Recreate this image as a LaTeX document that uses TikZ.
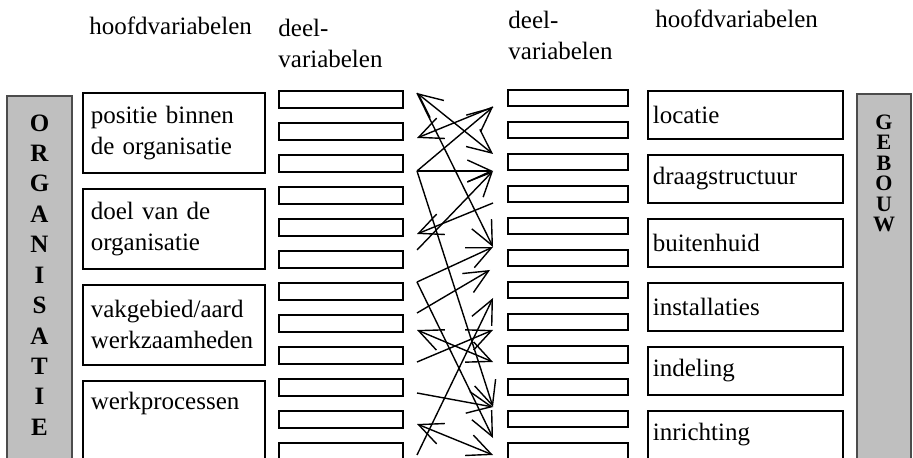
\documentclass[tikz,border=0pt]{standalone}
\usepackage{fontspec}
\setmainfont{Liberation Serif}
\usetikzlibrary{arrows.meta,positioning}

\begin{document}
\begin{tikzpicture}[x=0.5pt,y=-0.5pt,>={Straight Barb[length=12pt,width=11pt]},
  font=\fontsize{12.5}{15.5}\selectfont,
  every node/.style={inner sep=0pt},
  deelbox/.style={draw,line width=1pt,minimum width=62pt,minimum height=8.5pt},
  hoofdbox/.style={draw,line width=0.8pt,align=left,inner xsep=4pt},
  balk/.style={draw=black!70,line width=0.8pt,fill=black!25},
  letter/.style={font=\fontsize{12.5}{13}\selectfont\bfseries},
  rel/.style={line width=0.7pt}]
\useasboundingbox (0,0) rectangle (913,458);

% koppen
\node[anchor=base west] (hv1) at (89,35) {hoofdvariabelen};
\node[anchor=north west,align=left] (dv1) at (278,19) {deel-\\variabelen};
\node[anchor=north west,align=left] (dv2) at (508,11) {deel-\\variabelen};
\node[anchor=base west] (hv2) at (655,28) {hoofdvariabelen};

% balken
\node[balk,minimum width=32.5pt,minimum height=187pt,anchor=north] (org) at (39.5,95) {};
\foreach \c [count=\n] in {O,R,G,A,N,I,S,A,T,I,E}
  \node[letter] (o\n) at (39.5,{123+30.4*(\n-1)}) {\c};
\node[balk,minimum width=27pt,minimum height=188pt,anchor=north] (geb) at (884,93) {};
\foreach \c [count=\n] in {G,E,B,O,U,W}
  \node[letter,font=\fontsize{11}{12}\selectfont\bfseries] (g\n) at (884,{122+20.5*(\n-1)}) {\c};

% hoofdvariabelen organisatie
\node[hoofdbox,text width=83pt,minimum height=40pt,anchor=north west] (h1) at (82,92) {positie binnen\\de organisatie};
\node[hoofdbox,text width=83pt,minimum height=40pt,anchor=north west] (h2) at (82,188) {doel van de\\organisatie};
\node[hoofdbox,text width=83pt,minimum height=40pt,anchor=north west] (h3) at (82,284) {vakgebied/aard\\werkzaamheden};
\node[hoofdbox,text width=83pt,minimum height=40pt,anchor=north west] (h4) at (82,380) {werkprocessen\\\strut};

% hoofdvariabelen gebouw
\node[hoofdbox,text width=92.5pt,minimum height=24pt,inner xsep=2.5pt,anchor=north west] (k1) at (647,90) {locatie};
\node[hoofdbox,text width=92.5pt,minimum height=24pt,inner xsep=2.5pt,anchor=north west] (k2) at (647,154) {draagstructuur};
\node[hoofdbox,text width=92.5pt,minimum height=24pt,inner xsep=2.5pt,anchor=north west] (k3) at (647,218) {buitenhuid};
\node[hoofdbox,text width=92.5pt,minimum height=24pt,inner xsep=2.5pt,anchor=north west] (k4) at (647,282) {installaties};
\node[hoofdbox,text width=92.5pt,minimum height=24pt,inner xsep=2.5pt,anchor=north west] (k5) at (647,346) {indeling};
\node[hoofdbox,text width=92.5pt,minimum height=24pt,inner xsep=2.5pt,anchor=north west] (k6) at (647,410) {inrichting};

% deelvariabelen
\foreach \i in {1,...,12} {
  \node[deelbox] (l\i) at (341,{99.5+32*(\i-1)}) {};
  \node[deelbox,minimum width=60pt,minimum height=8pt] (r\i) at (568,{98.5+32*(\i-1)}) {};
}

% eindpunten van de relaties
\coordinate (la) at (417,93);  \coordinate (lb) at (417,138);
\coordinate (lc) at (417,171); \coordinate (ld) at (417,234);
\coordinate (le) at (417,250); \coordinate (lf) at (417,282);
\coordinate (lg) at (417,313); \coordinate (lh) at (417,330);
\coordinate (li) at (417,362); \coordinate (lj) at (417,393);
\coordinate (lk) at (417,424); \coordinate (lm) at (417,455);
\coordinate (rp) at (493,107); \coordinate (rq) at (493,154);
\coordinate (rr) at (493,171); \coordinate (rs) at (493,203);
\coordinate (rt) at (493,247); \coordinate (ru) at (490,270);
\coordinate (rv) at (493,298); \coordinate (rw) at (493,330);
\coordinate (rx) at (493,362); \coordinate (ry) at (493,407);
\coordinate (rz) at (493,438); \coordinate (rzz) at (493,455);

% relaties
\draw[rel,<->] (la) -- (rq);
\draw[rel,->] (la) -- (rt);
\draw[rel,->] (rp) -- (lb);
\draw[rel,->] (lc) -- (rp);
\draw[rel,->] (lc) -- (rr);
\draw[rel,->] (lc) -- (ry);
\draw[rel,->] (rs) -- (ld);
\draw[rel,->] (le) -- (rr);
\draw[rel,->] (lf) -- (rt);
\draw[rel,->] (lf) -- (rz);
\draw[rel,->] (lg) -- (ru);
\draw[rel,<->] (lh) -- (rx);
\draw[rel,->] (li) -- (rw);
\draw[rel,->] (lj) -- (ry);
\draw[rel,<->] (lk) -- (rzz);
\draw[rel,->] (lm) -- (rv);
\end{tikzpicture}
\end{document}
